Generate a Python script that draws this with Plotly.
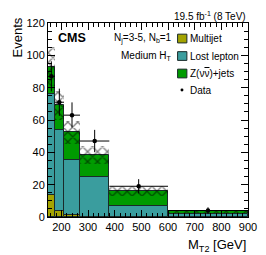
import plotly.graph_objects as go

# ---- data ----
bin_edges = [150, 175, 210, 270, 380, 600, 900]
multijet = [13.5, 3.8, 1.4, 0.3, 0.1, 0.0]
lost_lepton = [62.5, 49.8, 34.0, 24.3, 6.9, 2.0]
znunu = [17.0, 15.4, 17.0, 13.8, 9.0, 1.6]
bkg_err = [12.0, 9.0, 7.0, 5.5, 3.0, 1.0]
data = [87, 71, 63, 47, 19, 4]
data_err = [9.3, 8.4, 7.9, 6.9, 4.4, 2.0]

centers = [(a + b) / 2 for a, b in zip(bin_edges[:-1], bin_edges[1:])]
widths = [b - a for a, b in zip(bin_edges[:-1], bin_edges[1:])]
base_ll = multijet
base_z = [m + l for m, l in zip(multijet, lost_lepton)]
total = [m + l + z for m, l, z in zip(multijet, lost_lepton, znunu)]

C_MJ = "#a3a300"
C_LL = "#3a9d9e"
C_Z = "#009b00"
LINE = "#1a2a2a"

fig = go.Figure()
fig.add_trace(go.Bar(x=centers, y=multijet, width=widths, base=[0] * 6,
                     marker=dict(color=C_MJ, line=dict(color=LINE, width=1)),
                     name="Multijet", showlegend=False))
fig.add_trace(go.Bar(x=centers, y=lost_lepton, width=widths, base=base_ll,
                     marker=dict(color=C_LL, line=dict(color=LINE, width=1)),
                     name="Lost lepton", showlegend=False))
fig.add_trace(go.Bar(x=centers, y=znunu, width=widths, base=base_z,
                     marker=dict(color=C_Z, line=dict(color=LINE, width=1)),
                     name="Z(νν)+jets", showlegend=False))
fig.add_trace(go.Bar(x=centers, y=[2 * e for e in bkg_err], width=widths,
                     base=[t - e for t, e in zip(total, bkg_err)],
                     marker=dict(color="rgba(0,0,0,0)", line=dict(width=0),
                                 pattern=dict(shape="x", fgcolor="black", bgcolor="rgba(0,0,0,0)",
                                              size=7, solidity=0.35, fillmode="overlay")),
                     name="Bkg. uncertainty", showlegend=False))
fig.add_trace(go.Scatter(x=centers, y=data, mode="markers",
                         marker=dict(color="black", size=4.5),
                         error_y=dict(type="data", array=data_err, color="black", thickness=1, width=0),
                         error_x=dict(type="data", array=[w / 2 for w in widths], color="black", thickness=1, width=0),
                         name="Data", showlegend=False))

axis_common = dict(showline=True, linecolor="black", linewidth=1, mirror="allticks",
                   ticks="inside", ticklen=7, tickcolor="black", showgrid=False, zeroline=False,
                   tickfont=dict(family="Liberation Sans, Arial", size=11, color="black"))
fig.update_xaxes(range=[150, 900], tick0=200, dtick=100,
                 minor=dict(ticks="inside", ticklen=4, dtick=20, tick0=0, tickcolor="black"),
                 **axis_common)
fig.update_yaxes(range=[0, 120], tick0=0, dtick=20,
                 minor=dict(ticks="inside", ticklen=4, dtick=5, tickcolor="black"),
                 **axis_common)

# window geometry (the page body adds an 8 px offset)
OFF = 8
W, H = 266, 255
L, R, T, B = 47.5, 14, 17, 38.3
pw, ph = W - L - R, H - T - B


def px(xp):
    return (xp - L) / pw


def py(yp):
    return (H - B - yp) / ph


font = dict(family="Liberation Sans, Arial", color="black")
ann = []
ann.append(dict(text="19.5 fb<sup>-1</sup> (8 TeV)", x=1.0, y=py(10), xref="paper", yref="paper",
                xanchor="right", yanchor="middle", showarrow=False, font=dict(size=10, **font)))
ann.append(dict(text="<b>CMS</b>", x=px(56), y=py(32), xref="paper", yref="paper",
                xanchor="left", yanchor="middle", showarrow=False, font=dict(size=12.5, **font)))
ann.append(dict(text="N<sub>j</sub>=3-5, N<sub>b</sub>=1", x=px(176), y=py(33), xref="paper", yref="paper",
                xanchor="right", yanchor="middle", showarrow=False, font=dict(size=10, **font)))
ann.append(dict(text="Medium H<sub>T</sub>", x=px(176), y=py(51), xref="paper", yref="paper",
                xanchor="right", yanchor="middle", showarrow=False, font=dict(size=10, **font)))
ann.append(dict(text="Events", x=px(16), y=py(9), xref="paper", yref="paper", textangle=-90,
                xanchor="center", yanchor="top", showarrow=False, font=dict(size=13, **font)))
ann.append(dict(text="M<sub>T2</sub> [GeV]", x=1.0, y=py(246), xref="paper", yref="paper",
                xanchor="right", yanchor="middle", showarrow=False, font=dict(size=13, **font)))

shapes = []
legend_items = [("Multijet", C_MJ, 33), ("Lost lepton", C_LL, 51), ("Z(ν<span style='text-decoration:overline'>ν</span>)+jets", C_Z, 69)]
for label, col, yc in legend_items:
    shapes.append(dict(type="rect", xref="paper", yref="paper", x0=px(180), x1=px(189.5),
                       y0=py(yc + 4.5), y1=py(yc - 4.5), fillcolor=col,
                       line=dict(color=LINE, width=1)))
    ann.append(dict(text=label, x=px(191), y=py(yc), xref="paper", yref="paper",
                    xanchor="left", yanchor="middle", showarrow=False, font=dict(size=10, **font)))
shapes.append(dict(type="circle", xref="paper", yref="paper", x0=px(183), x1=px(186),
                   y0=py(87.5), y1=py(84.5), fillcolor="black", line=dict(color="black", width=0)))
ann.append(dict(text="Data", x=px(191), y=py(86), xref="paper", yref="paper",
                xanchor="left", yanchor="middle", showarrow=False, font=dict(size=10, **font)))

fig.update_layout(width=W - OFF, height=H - OFF,
                  margin=dict(l=L - OFF, r=R, t=T - OFF, b=B, pad=0),
                  paper_bgcolor="white", plot_bgcolor="white", barmode="overlay", bargap=0,
                  annotations=ann, shapes=shapes, showlegend=False)

fig.write_html("out.html")
